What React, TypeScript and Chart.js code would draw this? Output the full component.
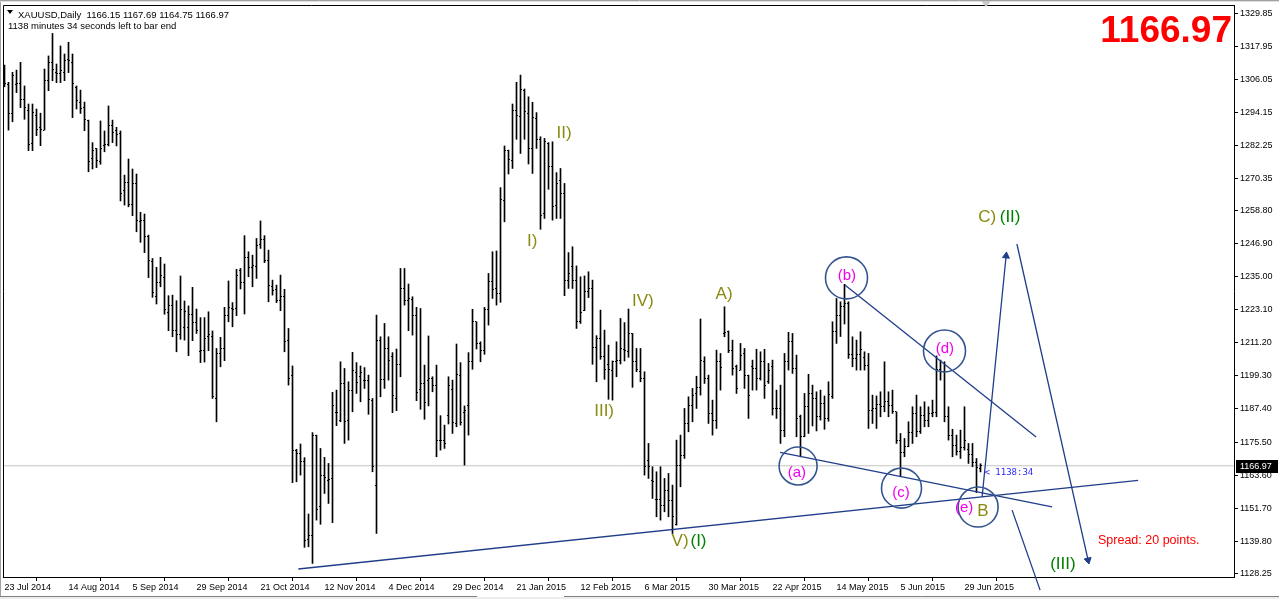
import React, { useEffect, useRef } from "react";
import { Chart, registerables } from "chart.js";

Chart.register(...registerables);

// ---------- chart values ----------
const symbolTitle = "XAUUSD,Daily";
const lastBar = { open: 1166.15, high: 1167.69, low: 1164.75, close: 1166.97 };
const timerText = "1138 minutes 34 seconds left to bar end";
const timerShort = "< 1138:34";
const spreadText = "Spread: 20 points.";

const dateLabels = [
  "23 Jul 2014", "14 Aug 2014", "5 Sep 2014", "29 Sep 2014", "21 Oct 2014", "12 Nov 2014",
  "4 Dec 2014", "29 Dec 2014", "21 Jan 2015", "12 Feb 2015", "6 Mar 2015", "30 Mar 2015",
  "22 Apr 2015", "14 May 2015", "5 Jun 2015", "29 Jun 2015",
];
const dateTickBars = [0, 16, 32, 48, 64, 80, 96, 112, 128, 144, 160, 176, 192, 208, 224, 240];

const priceTicks = [
  1128.25, 1139.8, 1151.7, 1163.6, 1175.5, 1187.4, 1199.3, 1211.2, 1223.1,
  1235.0, 1246.9, 1258.8, 1270.35, 1282.25, 1294.15, 1306.05, 1317.95, 1329.85,
];

const opens = [
  1306.0, 1304.3, 1293.8, 1304.3, 1304.6, 1298.9, 1295.0, 1283.0, 1293.2, 1288.7,
  1287.8, 1305.6, 1312.2, 1308.6, 1308.2, 1308.6, 1313.3, 1312.2, 1303.0, 1297.7,
  1295.9, 1291.4, 1277.6, 1281.2, 1276.4, 1282.3, 1282.7, 1289.5, 1287.8, 1286.6,
  1266.0, 1268.9, 1261.2, 1268.6, 1254.8, 1255.3, 1249.4, 1240.4, 1227.8, 1232.9,
  1234.6, 1222.3, 1224.8, 1215.8, 1214.4, 1216.9, 1216.9, 1221.5, 1218.5, 1208.0,
  1208.6, 1213.4, 1213.4, 1191.2, 1207.4, 1209.1, 1220.9, 1223.6, 1223.6, 1237.2,
  1232.9, 1242.0, 1238.4, 1238.6, 1246.8, 1248.5, 1241.0, 1231.4, 1230.5, 1226.3,
  1227.8, 1212.2, 1199.3, 1172.6, 1171.4, 1168.4, 1140.5, 1141.7, 1178.0, 1152.2,
  1163.6, 1161.8, 1162.4, 1186.1, 1183.1, 1196.6, 1183.4, 1194.2, 1200.5, 1199.0,
  1197.8, 1197.8, 1190.6, 1160.0, 1212.2, 1198.1, 1209.2, 1206.2, 1191.2, 1203.5,
  1230.8, 1226.3, 1226.9, 1221.2, 1194.5, 1196.6, 1197.8, 1198.4, 1195.7, 1176.2,
  1176.2, 1185.2, 1194.5, 1182.2, 1199.6, 1186.0, 1188.5, 1204.4, 1218.8, 1211.0,
  1208.6, 1223.3, 1233.2, 1230.8, 1229.0, 1262.6, 1280.3, 1277.0, 1295.0, 1292.6,
  1302.2, 1293.8, 1281.2, 1292.0, 1284.6, 1257.8, 1283.0, 1274.6, 1260.8, 1269.8,
  1265.0, 1233.6, 1238.6, 1233.8, 1218.8, 1223.0, 1229.6, 1230.8, 1209.6, 1212.8,
  1206.2, 1203.6, 1201.4, 1204.4, 1204.8, 1208.9, 1208.0, 1214.6, 1204.4, 1200.8,
  1198.4, 1169.0, 1161.8, 1154.9, 1154.9, 1152.8, 1158.2, 1154.3, 1146.0, 1167.2,
  1170.8, 1182.2, 1188.8, 1193.0, 1195.2, 1204.4, 1198.4, 1185.8, 1183.4, 1204.4,
  1214.6, 1215.2, 1208.6, 1202.6, 1201.4, 1207.4, 1199.6, 1202.6, 1202.0, 1198.4,
  1204.4, 1197.2, 1202.6, 1187.6, 1187.6, 1179.8, 1204.4, 1211.6, 1202.0, 1184.6,
  1177.4, 1188.2, 1193.0, 1191.2, 1184.6, 1189.4, 1184.0, 1192.0, 1215.2, 1221.2,
  1224.2, 1225.4, 1207.0, 1205.5, 1207.0, 1206.0, 1203.2, 1187.0, 1187.6, 1189.0,
  1188.2, 1190.0, 1188.5, 1186.4, 1176.0, 1171.8, 1173.8, 1179.0, 1185.8, 1179.2,
  1185.0, 1183.4, 1185.8, 1186.0, 1201.6, 1201.0, 1184.6, 1178.0, 1174.4, 1172.0,
  1173.6, 1173.0, 1171.0, 1168.2, 1166.15,
];
const highs = [
  1311.2, 1305.0, 1308.6, 1309.4, 1312.2, 1303.7, 1297.2, 1297.2, 1295.4, 1293.9,
  1309.8, 1314.5, 1322.6, 1311.6, 1318.1, 1315.2, 1319.4, 1315.2, 1303.7, 1302.2,
  1297.9, 1291.4, 1283.3, 1281.2, 1291.1, 1287.5, 1296.5, 1291.4, 1288.8, 1287.5,
  1271.6, 1277.4, 1273.8, 1272.0, 1258.2, 1257.6, 1250.0, 1241.6, 1238.4, 1242.0,
  1239.6, 1228.2, 1228.4, 1226.4, 1235.3, 1226.3, 1224.5, 1231.2, 1223.4, 1220.3,
  1220.3, 1222.4, 1215.5, 1209.2, 1213.2, 1224.0, 1233.5, 1225.7, 1237.7, 1238.0,
  1249.8, 1244.0, 1242.8, 1248.8, 1255.1, 1249.8, 1244.6, 1233.8, 1232.0, 1235.6,
  1230.5, 1216.4, 1202.9, 1172.9, 1174.8, 1169.9, 1149.6, 1178.9, 1178.0, 1173.2,
  1170.0, 1167.8, 1193.4, 1194.2, 1204.4, 1202.0, 1197.2, 1207.8, 1204.1, 1202.9,
  1202.3, 1199.6, 1191.2, 1221.2, 1213.4, 1218.2, 1213.4, 1207.7, 1209.0, 1238.0,
  1238.0, 1232.4, 1227.8, 1224.0, 1223.6, 1203.2, 1213.7, 1199.0, 1203.2, 1185.0,
  1181.6, 1199.0, 1197.8, 1210.8, 1204.1, 1188.5, 1207.7, 1223.3, 1218.8, 1211.6,
  1224.0, 1236.2, 1244.0, 1244.3, 1267.1, 1282.1, 1280.6, 1297.2, 1305.0, 1307.6,
  1302.6, 1299.8, 1297.8, 1294.1, 1285.4, 1284.8, 1283.3, 1283.6, 1272.5, 1274.0,
  1268.6, 1243.7, 1245.8, 1238.9, 1235.0, 1235.3, 1236.8, 1233.8, 1213.8, 1223.0,
  1215.8, 1210.4, 1204.7, 1211.6, 1220.0, 1218.5, 1223.4, 1214.6, 1209.2, 1209.2,
  1200.8, 1175.0, 1166.6, 1164.8, 1166.6, 1162.4, 1164.2, 1160.0, 1176.2, 1178.0,
  1187.6, 1191.8, 1194.8, 1199.2, 1219.8, 1206.2, 1199.6, 1190.6, 1208.6, 1207.4,
  1224.2, 1215.5, 1212.2, 1203.2, 1211.0, 1209.2, 1199.6, 1205.0, 1208.9, 1208.0,
  1208.9, 1203.8, 1205.0, 1194.2, 1196.0, 1207.4, 1215.0, 1214.6, 1206.8, 1185.2,
  1193.0, 1199.9, 1196.0, 1193.6, 1194.2, 1192.1, 1197.2, 1218.8, 1227.2, 1226.0,
  1232.3, 1226.0, 1213.4, 1212.2, 1215.2, 1208.0, 1207.4, 1192.4, 1192.1, 1193.6,
  1204.4, 1193.6, 1194.2, 1186.4, 1178.6, 1176.8, 1182.8, 1188.2, 1192.4, 1188.2,
  1190.0, 1188.2, 1190.6, 1206.5, 1205.0, 1204.4, 1188.2, 1180.1, 1178.0, 1179.8,
  1188.2, 1175.0, 1175.0, 1169.6, 1167.69,
];
const lows = [
  1303.4, 1287.8, 1290.8, 1301.3, 1295.9, 1291.7, 1280.4, 1280.4, 1285.8, 1282.2,
  1287.8, 1302.0, 1305.6, 1304.9, 1304.9, 1305.6, 1308.5, 1292.3, 1295.4, 1293.8,
  1287.6, 1272.8, 1273.8, 1274.3, 1275.5, 1280.0, 1282.1, 1283.3, 1282.1, 1262.3,
  1260.8, 1260.2, 1257.0, 1251.2, 1247.4, 1243.7, 1234.7, 1227.6, 1225.2, 1231.4,
  1221.5, 1215.6, 1213.4, 1208.0, 1212.5, 1212.2, 1206.6, 1212.0, 1214.6, 1204.1,
  1204.3, 1208.4, 1191.2, 1182.8, 1202.6, 1204.8, 1218.8, 1217.0, 1221.0, 1230.6,
  1221.6, 1235.0, 1231.4, 1234.4, 1245.2, 1240.1, 1226.0, 1228.4, 1225.7, 1222.8,
  1208.0, 1196.0, 1160.9, 1161.2, 1163.6, 1137.6, 1137.8, 1131.8, 1147.4, 1145.9,
  1157.0, 1153.4, 1146.5, 1181.4, 1182.8, 1175.0, 1176.2, 1186.4, 1193.0, 1190.0,
  1194.8, 1185.5, 1164.8, 1142.6, 1191.8, 1194.8, 1197.8, 1186.1, 1186.8, 1199.0,
  1224.8, 1215.6, 1214.0, 1190.4, 1187.3, 1183.7, 1188.5, 1193.6, 1170.2, 1172.6,
  1173.2, 1182.0, 1178.6, 1181.0, 1181.6, 1167.2, 1178.0, 1201.7, 1209.0, 1204.4,
  1207.1, 1217.6, 1227.2, 1224.8, 1225.8, 1254.8, 1272.0, 1274.0, 1284.5, 1279.4,
  1284.5, 1275.6, 1272.2, 1281.2, 1252.1, 1256.0, 1266.5, 1255.4, 1256.0, 1256.0,
  1228.2, 1230.8, 1230.8, 1216.4, 1218.2, 1222.8, 1227.5, 1203.5, 1197.2, 1205.3,
  1198.1, 1190.9, 1190.6, 1199.0, 1203.6, 1204.7, 1206.0, 1195.2, 1200.8, 1197.2,
  1163.6, 1162.4, 1155.2, 1148.6, 1147.4, 1150.4, 1148.6, 1142.6, 1145.6, 1159.4,
  1169.6, 1179.2, 1182.8, 1187.6, 1192.4, 1196.6, 1182.2, 1178.0, 1180.4, 1194.2,
  1213.4, 1207.7, 1199.6, 1193.0, 1201.4, 1194.8, 1184.0, 1194.2, 1194.2, 1197.8,
  1191.2, 1196.6, 1185.2, 1184.0, 1175.0, 1177.4, 1201.4, 1200.2, 1177.4, 1170.2,
  1177.4, 1178.6, 1181.3, 1179.5, 1183.4, 1180.1, 1183.0, 1191.2, 1211.0, 1213.5,
  1218.0, 1205.6, 1202.6, 1201.4, 1201.4, 1201.4, 1180.4, 1182.2, 1180.4, 1184.6,
  1186.4, 1184.6, 1185.8, 1175.0, 1163.0, 1170.2, 1173.8, 1175.0, 1177.4, 1178.6,
  1181.0, 1181.0, 1184.6, 1184.6, 1197.8, 1182.8, 1176.2, 1170.2, 1170.8, 1169.6,
  1172.6, 1167.8, 1166.6, 1157.3, 1164.75,
];
const closes = [
  1304.6, 1293.8, 1307.6, 1304.6, 1298.9, 1295.9, 1282.7, 1294.1, 1288.1, 1288.2,
  1305.6, 1312.2, 1309.7, 1308.2, 1309.4, 1312.8, 1312.8, 1304.6, 1298.3, 1295.6,
  1291.7, 1276.4, 1280.6, 1277.0, 1281.2, 1282.7, 1289.5, 1287.0, 1286.3, 1265.0,
  1268.9, 1261.2, 1268.6, 1255.3, 1255.4, 1249.4, 1240.8, 1229.3, 1233.1, 1235.5,
  1223.3, 1224.8, 1215.6, 1214.4, 1223.3, 1222.4, 1221.5, 1218.5, 1215.5, 1208.6,
  1212.8, 1214.4, 1192.0, 1207.4, 1209.1, 1220.9, 1224.0, 1223.4, 1235.6, 1232.9,
  1242.0, 1238.4, 1238.9, 1246.4, 1248.5, 1241.0, 1231.7, 1230.2, 1226.3, 1227.8,
  1211.6, 1198.4, 1172.6, 1171.4, 1168.4, 1140.2, 1141.7, 1178.0, 1151.3, 1163.6,
  1162.8, 1162.1, 1188.8, 1186.1, 1196.6, 1182.8, 1194.0, 1201.1, 1196.9, 1200.5,
  1197.8, 1191.0, 1166.6, 1211.9, 1198.1, 1209.2, 1205.0, 1192.1, 1203.6, 1230.8,
  1226.3, 1227.2, 1221.2, 1193.3, 1196.6, 1189.7, 1198.4, 1195.7, 1176.2, 1176.2,
  1175.0, 1196.0, 1182.5, 1200.0, 1182.5, 1187.0, 1204.4, 1218.8, 1211.0, 1208.6,
  1223.3, 1233.2, 1230.5, 1229.0, 1262.9, 1280.3, 1277.3, 1295.0, 1293.0, 1302.5,
  1294.4, 1281.2, 1292.3, 1284.6, 1257.2, 1283.6, 1274.6, 1260.2, 1268.6, 1265.0,
  1233.6, 1236.2, 1233.8, 1218.8, 1222.1, 1229.6, 1230.8, 1209.6, 1212.8, 1206.2,
  1201.7, 1201.7, 1204.4, 1204.8, 1209.2, 1208.3, 1214.6, 1204.4, 1201.5, 1198.4,
  1166.6, 1166.6, 1161.2, 1154.9, 1152.8, 1158.2, 1154.3, 1148.6, 1167.2, 1170.8,
  1182.2, 1188.8, 1192.4, 1195.2, 1204.7, 1198.4, 1185.8, 1183.4, 1204.4, 1202.4,
  1215.0, 1208.6, 1202.0, 1194.8, 1206.8, 1199.6, 1192.4, 1202.0, 1198.4, 1204.4,
  1196.0, 1201.4, 1187.6, 1187.6, 1179.8, 1204.4, 1211.6, 1202.0, 1184.0, 1177.4,
  1188.2, 1193.0, 1191.2, 1184.6, 1189.4, 1184.0, 1192.8, 1215.2, 1221.2, 1224.2,
  1225.4, 1207.0, 1205.5, 1207.0, 1209.0, 1203.2, 1187.0, 1187.6, 1189.0, 1188.2,
  1190.0, 1188.5, 1186.4, 1176.0, 1171.8, 1173.8, 1179.0, 1185.8, 1179.2, 1185.0,
  1183.4, 1185.8, 1186.0, 1201.6, 1201.0, 1184.6, 1178.0, 1174.4, 1172.0, 1173.6,
  1176.2, 1171.0, 1168.2, 1166.2, 1166.97,
];

// ---------- analysis objects (in bar index / price units) ----------
const trendLines = [
  { from: [73.45, 1129.8], to: [283.4, 1161.7] },
  { from: [193.9, 1171.8], to: [261.9, 1152.2] },
  { from: [210.1, 1232.0], to: [257.9, 1177.3] },
];
const arrowLines = [
  { from: [244.4, 1155.7], to: [250.4, 1242.5] },
  { from: [253.1, 1246.8], to: [270.9, 1133.0] },
  { from: [251.9, 1151.0], to: [258.9, 1122.2] },
];
const circleCenters = [
  { at: [198.4, 1166.9], r: 19 },
  { at: [210.5, 1234.6], r: 21 },
  { at: [224.25, 1158.9], r: 20 },
  { at: [235.0, 1208.3], r: 21 },
  { at: [243.4, 1152.1], r: 20 },
];
const subWaveLabels = [
  { text: "(a)", at: [198.1, 1164.4] },
  { text: "(b)", at: [210.6, 1235.3] },
  { text: "(c)", at: [224.1, 1157.2] },
  { text: "(d)", at: [235.1, 1209.0] },
  { text: "(e)", at: [239.9, 1151.8] },
];
const minorWaveLabels = [
  { text: "I)", at: [131.9, 1247.9] },
  { text: "II)", at: [139.9, 1286.8] },
  { text: "III)", at: [149.9, 1186.7] },
  { text: "IV)", at: [159.6, 1226.3] },
  { text: "V)", at: [168.9, 1139.9] },
  { text: "A)", at: [179.9, 1228.8] },
  { text: "B", at: [244.6, 1150.7] },
  { text: "C)", at: [245.7, 1256.5] },
];
const majorWaveLabels = [
  { text: "(I)", at: [173.5, 1139.9] },
  { text: "(II)", at: [251.4, 1256.5] },
  { text: "(III)", at: [264.6, 1131.6] },
];

const X_MIN = -0.375;
const X_MAX = 307.375;
const Y_MIN = 1126.92;
const Y_MAX = 1332.84;

const FONT = '"Liberation Sans", Arial, sans-serif';
const NAVY = "#1f3d8a";
const CIRCLE = "#34558f";
const OLIVE = "#8a8a10";
const GREEN = "#008000";
const MAGENTA = "#f000f0";

function makeTick(side: string) {
  const c = document.createElement("canvas");
  c.width = 3;
  c.height = 1;
  const ctx = c.getContext("2d")!;
  ctx.fillStyle = "#000";
  ctx.fillRect(side === "open" ? 0 : 2, 0, 1, 1);
  return c;
}

const overlayPlugin = {
  id: "mt4overlay",
  beforeDraw(chart: any) {
    const ctx = chart.ctx;
    ctx.save();
    ctx.fillStyle = "#ffffff";
    ctx.fillRect(0, 0, chart.width, chart.height);
    ctx.restore();
  },
  afterDatasetsDraw(chart: any) {
    const ctx = chart.ctx;
    const xs = chart.scales.x;
    const ys = chart.scales.y;
    ctx.save();
    ctx.textAlign = "center";
    ctx.textBaseline = "middle";
    const put = (list: any[], color: string, size: number) => {
      ctx.fillStyle = color;
      ctx.font = `${size}px ${FONT}`;
      list.forEach((l) => {
        ctx.fillText(l.text, xs.getPixelForValue(l.at[0]), ys.getPixelForValue(l.at[1]));
      });
    };
    put(minorWaveLabels, OLIVE, 17);
    put(majorWaveLabels, GREEN, 17);
    put(subWaveLabels, MAGENTA, 15);
    ctx.textAlign = "left";
    ctx.fillStyle = "#2a2aff";
    ctx.font = `9px "DejaVu Sans Mono", monospace`;
    ctx.fillText(timerShort, xs.getPixelForValue(opens.length - 1) + 4, ys.getPixelForValue(lastBar.close) + 7);
    ctx.restore();
  },
  afterDraw(chart: any) {
    const ctx = chart.ctx;
    const a = chart.chartArea;
    const ys = chart.scales.y;
    ctx.save();
    ctx.strokeStyle = "#000";
    ctx.lineWidth = 1;
    ctx.beginPath();
    ctx.moveTo(a.left + 0.5, a.bottom + 0.5);
    ctx.lineTo(a.left + 0.5, a.top + 0.5);
    ctx.lineTo(a.right + 0.5, a.top + 0.5);
    ctx.stroke();
    ctx.strokeStyle = "#a0a0a0";
    ctx.beginPath();
    ctx.moveTo(0, 0.5);
    ctx.lineTo(chart.width, 0.5);
    ctx.moveTo(0.5, 0);
    ctx.lineTo(0.5, chart.height);
    ctx.stroke();
    ctx.strokeStyle = "#e0e0e0";
    ctx.beginPath();
    ctx.moveTo(0, 1.5);
    ctx.lineTo(chart.width, 1.5);
    ctx.stroke();
    ctx.fillStyle = "#ececec";
    ctx.fillRect(0, 597, chart.width, 2);
    ctx.strokeStyle = "#808080";
    ctx.beginPath();
    ctx.moveTo(0, 596.5);
    ctx.lineTo(477, 596.5);
    ctx.moveTo(564, 596.5);
    ctx.lineTo(chart.width, 596.5);
    ctx.stroke();
    ctx.fillStyle = "#c8c8c8";
    ctx.beginPath();
    ctx.moveTo(981, 1);
    ctx.lineTo(991, 1);
    ctx.lineTo(986, 7);
    ctx.closePath();
    ctx.fill();
    ctx.fillStyle = "#000";
    ctx.beginPath();
    ctx.moveTo(7, 10);
    ctx.lineTo(13, 10);
    ctx.lineTo(10, 14);
    ctx.closePath();
    ctx.fill();
    ctx.font = `9.5px ${FONT}`;
    ctx.textAlign = "left";
    ctx.textBaseline = "alphabetic";
    const f = (v: number) => v.toFixed(2);
    ctx.fillText(
      `${symbolTitle}  ${f(lastBar.open)} ${f(lastBar.high)} ${f(lastBar.low)} ${f(lastBar.close)}`,
      18, 17.5
    );
    ctx.fillText(timerText, 8, 29);
    ctx.fillStyle = "#ff0000";
    ctx.font = `bold 37px ${FONT}`;
    ctx.textAlign = "right";
    ctx.fillText(f(lastBar.close), 1232, 42);
    ctx.font = `12.5px ${FONT}`;
    ctx.textAlign = "left";
    ctx.fillText(spreadText, 1098, 544);
    const py = Math.round(ys.getPixelForValue(lastBar.close));
    ctx.fillStyle = "#000";
    ctx.fillRect(a.right + 2, py - 6, 42, 13);
    ctx.fillStyle = "#fff";
    ctx.font = `9px ${FONT}`;
    ctx.textBaseline = "middle";
    ctx.fillText(f(lastBar.close), a.right + 6, py + 0.5);
    ctx.restore();
  },
};

const noPad = (s: any) => {
  s.paddingLeft = 0;
  s.paddingRight = 0;
  s.paddingTop = 0;
  s.paddingBottom = 0;
};

export default function App() {
  const ref = useRef<HTMLCanvasElement | null>(null);

  useEffect(() => {
    if (!ref.current) return;
    const openTick = makeTick("open");
    const closeTick = makeTick("close");
    const idx = opens.map((_, i) => i);
    const pxX = 1231 / (X_MAX - X_MIN);
    const pxY = 572 / (Y_MAX - Y_MIN);
    const headRotation = arrowLines.map((l) => {
      const dx = (l.to[0] - l.from[0]) * pxX;
      const dy = (l.to[1] - l.from[1]) * pxY;
      return (Math.atan2(dx, dy) * 180) / Math.PI;
    });

    const lineDs = (pts: any[], clip: boolean) => ({
      type: "line",
      data: pts,
      borderColor: NAVY,
      borderWidth: 1.3,
      pointRadius: 0,
      fill: false,
      tension: 0,
      order: 3,
      clip: clip ? undefined : false,
    });

    const datasets: any[] = [
      {
        type: "line",
        data: [
          { x: X_MIN, y: lastBar.close },
          { x: X_MAX, y: lastBar.close },
        ],
        borderColor: "#c4c4c4",
        borderWidth: 1,
        pointRadius: 0,
        order: 30,
      },
      {
        type: "bar",
        data: idx.map((i) => ({ x: i, y: [lows[i], highs[i]] })),
        backgroundColor: "#000",
        borderWidth: 0,
        barThickness: 1,
        grouped: false,
        order: 20,
      },
      {
        type: "scatter",
        data: idx.map((i) => ({ x: i, y: opens[i] })),
        pointStyle: openTick,
        pointRadius: 1,
        order: 19,
      },
      {
        type: "scatter",
        data: idx.map((i) => ({ x: i, y: closes[i] })),
        pointStyle: closeTick,
        pointRadius: 1,
        order: 19,
      },
      ...trendLines.map((l) =>
        lineDs([{ x: l.from[0], y: l.from[1] }, { x: l.to[0], y: l.to[1] }], true)
      ),
      ...arrowLines.map((l, k) =>
        lineDs([{ x: l.from[0], y: l.from[1] }, { x: l.to[0], y: l.to[1] }], k !== 2)
      ),
      {
        type: "scatter",
        data: arrowLines.map((l) => ({ x: l.to[0], y: l.to[1] })),
        pointStyle: "triangle",
        pointRadius: 4,
        rotation: headRotation,
        backgroundColor: NAVY,
        borderColor: NAVY,
        borderWidth: 1,
        clip: false,
        order: 2,
      },
      {
        type: "scatter",
        data: circleCenters.map((c) => ({ x: c.at[0], y: c.at[1] })),
        pointStyle: "circle",
        pointRadius: circleCenters.map((c) => c.r),
        backgroundColor: "rgba(0,0,0,0)",
        borderColor: CIRCLE,
        borderWidth: 1.6,
        clip: false,
        order: 1,
      },
    ];

    const chart = new Chart(ref.current, {
      type: "scatter",
      data: { datasets },
      plugins: [overlayPlugin],
      options: {
        responsive: false,
        animation: false,
        devicePixelRatio: 1,
        events: [],
        layout: { autoPadding: false, padding: { left: 3, top: 5, right: 0, bottom: 0 } },
        plugins: { legend: { display: false }, tooltip: { enabled: false } },
        scales: {
          x: {
            type: "linear",
            position: "bottom",
            min: X_MIN,
            max: X_MAX,
            offset: false,
            grid: { drawOnChartArea: false, drawTicks: true, tickLength: 4, color: "#000", lineWidth: 1 },
            border: { display: true, color: "#000", width: 1 },
            ticks: {
              autoSkip: false,
              maxRotation: 0,
              minRotation: 0,
              align: "start",
              padding: 1,
              color: "#000",
              font: { family: FONT, size: 9 },
              callback: (_v: any, i: number) => dateLabels[i] ?? "",
            },
            afterBuildTicks: (s: any) => {
              s.ticks = dateTickBars.map((v) => ({ value: v }));
            },
            afterFit: (s: any) => {
              s.height = 22;
              noPad(s);
            },
          },
          y: {
            type: "linear",
            position: "right",
            min: Y_MIN,
            max: Y_MAX,
            grid: { drawOnChartArea: false, drawTicks: true, tickLength: 4, color: "#000", lineWidth: 1 },
            border: { display: true, color: "#000", width: 1 },
            ticks: {
              autoSkip: false,
              padding: 2,
              color: "#000",
              font: { family: FONT, size: 9 },
              callback: (v: any) => Number(v).toFixed(2),
            },
            afterBuildTicks: (s: any) => {
              s.ticks = priceTicks.map((v) => ({ value: v }));
            },
            afterFit: (s: any) => {
              s.width = 45;
              noPad(s);
            },
          },
        },
      } as any,
    } as any);
    return () => chart.destroy();
  }, []);

  return (
    <div style={{ position: "fixed", left: 0, top: 0, width: 1279, height: 599, background: "#fff" }}>
      <canvas ref={ref} width={1279} height={599} style={{ display: "block" }} />
    </div>
  );
}
